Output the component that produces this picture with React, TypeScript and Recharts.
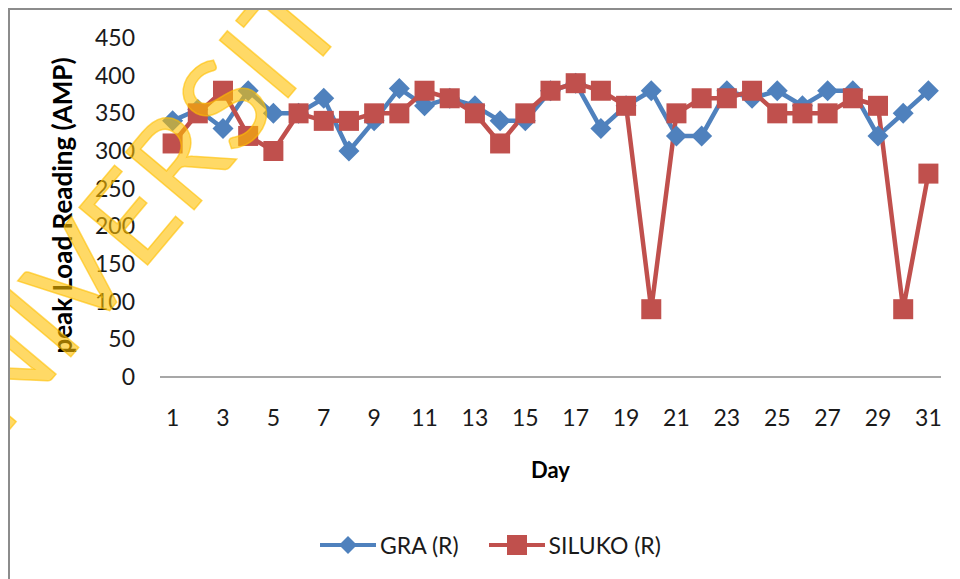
import { Label, Legend, Line, LineChart, XAxis, YAxis } from 'recharts';

const days = Array.from({ length: 31 }, (_, i) => i + 1);
const graR = [
  340, 355, 330, 380, 350, 350, 370, 300, 340, 383, 360, 370, 360, 340, 340, 380,
  390, 330, 360, 380, 320, 320, 380, 370, 380, 360, 380, 380, 320, 350, 380,
];
const silukoR = [
  310, 350, 380, 320, 300, 350, 340, 340, 350, 350, 380, 370, 350, 310, 350, 380,
  390, 380, 360, 90, 350, 370, 370, 380, 350, 350, 350, 370, 360, 90, 270,
];
const yTicks = [0, 50, 100, 150, 200, 250, 300, 350, 400, 450];

const data = days.map((day, i) => ({ day, gra: graR[i], siluko: silukoR[i] }));

const BLUE = '#4F81BD';
const RED = '#C0504D';
const FONT = 'Lato, "Open Sans", sans-serif';

function Diamond(props: any) {
  const { cx, cy, index } = props;
  if (cx == null || cy == null) return <g key={index} />;
  const r = 10.5;
  return (
    <polygon
      key={index}
      points={`${cx},${cy - r} ${cx + r},${cy} ${cx},${cy + r} ${cx - r},${cy}`}
      fill={BLUE}
    />
  );
}

function Square(props: any) {
  const { cx, cy, index } = props;
  if (cx == null || cy == null) return <g key={index} />;
  return <rect key={index} x={cx - 10} y={cy - 10} width={20} height={20} fill={RED} />;
}

function LegendBox() {
  const item = (color: string, label: string, square: boolean) => (
    <div style={{ display: 'flex', alignItems: 'center', marginRight: 30 }}>
      <svg width={56} height={24}>
        <line x1={0} y1={12} x2={56} y2={12} stroke={color} strokeWidth={4} strokeLinecap="round" />
        {square ? (
          <rect x={18} y={2} width={20} height={20} fill={color} />
        ) : (
          <polygon points="28,3 37,12 28,21 19,12" fill={color} />
        )}
      </svg>
      <span style={{ marginLeft: 4, fontSize: 23, color: '#1a1a1a', fontFamily: FONT }}>{label}</span>
    </div>
  );
  return (
    <div style={{ display: 'flex', paddingLeft: 312, height: 40, alignItems: 'center' }}>
      {item(BLUE, 'GRA (R)', false)}
      {item(RED, 'SILUKO (R)', true)}
    </div>
  );
}

function YLabel(props: any) {
  const { viewBox } = props;
  const y = viewBox.y + viewBox.height / 2 - 2;
  const x = 54;
  return (
    <text
      x={x}
      y={y}
      transform={`rotate(-90 ${x} ${y})`}
      textAnchor="middle"
      dominantBaseline="central"
      fontFamily={FONT}
      fontWeight="bold"
      fontSize={26}
      fill="#000"
    >
      peak Load Reading (AMP)
    </text>
  );
}

export default function App() {
  return (
    <div
      style={{
        position: 'relative',
        width: 952,
        height: 571,
        borderTop: '2px solid #8c8c8c',
        borderLeft: '2px solid #8c8c8c',
        boxSizing: 'border-box',
        background: '#fff',
        overflow: 'hidden',
      }}
    >
      <div style={{ position: 'absolute', left: -2, top: -2 }}>
        <LineChart
          width={952}
          height={571}
          data={data}
          margin={{ top: 30, right: 19, left: 0, bottom: 14 }}
        >
          <XAxis
            dataKey="day"
            interval={1}
            height={148}
            padding={{ left: 12.6, right: 12.6 }}
            axisLine={{ stroke: '#8a8a8a', strokeWidth: 1.5 }}
            tickLine={false}
            tickSize={0}
            tickMargin={33}
            tick={{ fontSize: 23, fill: '#1a1a1a', fontFamily: FONT }}
          >
            <Label
              value="Day"
              position="insideTop"
              offset={85}
              style={{ fontSize: 22, fontWeight: 'bold', fill: '#000', fontFamily: FONT }}
            />
          </XAxis>
          <YAxis
            width={152}
            domain={[0, 450]}
            ticks={yTicks}
            axisLine={false}
            tickLine={false}
            tickSize={0}
            tickMargin={25}
            tick={{ fontSize: 23, fill: '#1a1a1a', fontFamily: FONT }}
            label={<YLabel />}
          />
          <Legend verticalAlign="bottom" height={40} content={<LegendBox />} />
          <Line
            dataKey="gra"
            name="GRA (R)"
            stroke={BLUE}
            strokeWidth={4.5}
            dot={Diamond}
            activeDot={false}
            isAnimationActive={false}
          />
          <Line
            dataKey="siluko"
            name="SILUKO (R)"
            stroke={RED}
            strokeWidth={4.5}
            dot={Square}
            activeDot={false}
            isAnimationActive={false}
          />
        </LineChart>
      </div>
      <svg
        width={952}
        height={571}
        style={{ position: 'absolute', left: -2, top: -2, pointerEvents: 'none' }}
      >
        <text
          x={-65}
          y={501}
          transform="rotate(-50 -65 501)"
          fontFamily={FONT}
          fontSize={125}
          fill="#FFC000"
          fillOpacity={0.6}
          stroke="#FFC000"
          strokeOpacity={0.6}
          strokeWidth={1.5}
        >
          UNIVERSITY
        </text>
      </svg>
    </div>
  );
}
